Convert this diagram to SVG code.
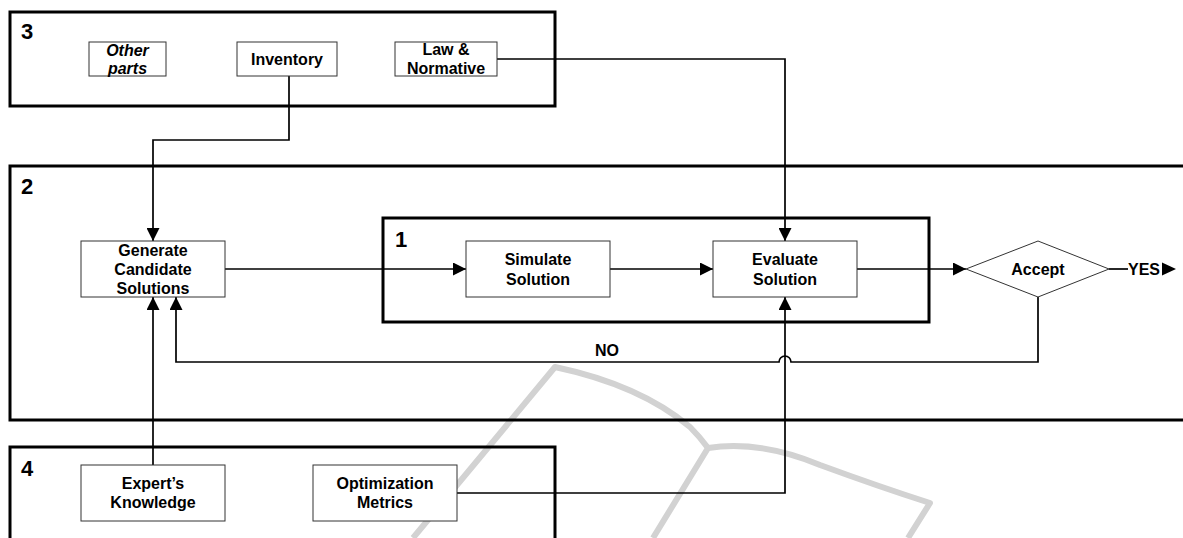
<svg xmlns="http://www.w3.org/2000/svg" width="1183" height="538" viewBox="0 0 1183 538">
<style>
  .wm { fill: none; stroke: #d2d2d2; stroke-width: 6; stroke-linecap: butt; stroke-linejoin: round; }
  .container { fill: none; stroke: #000; stroke-width: 3; }
  .node { fill: #fff; stroke: #333; stroke-width: 1; }
  .conn { fill: none; stroke: #000; stroke-width: 1.7; }
  .t { font-family: "Liberation Sans", Arial, sans-serif; font-weight: bold; font-size: 16px; text-anchor: middle; fill: #000; }
  .num { font-family: "Liberation Sans", Arial, sans-serif; font-weight: bold; font-size: 22px; fill: #000; }
  .it { font-style: italic; }
</style>
<defs>
  <marker id="arrow" viewBox="0 0 13 13" refX="13" refY="6.5" markerWidth="13" markerHeight="13" markerUnits="userSpaceOnUse" orient="auto">
    <path d="M0,0 L13,6.5 L0,13 Z" fill="#000"/>
  </marker>
</defs>
<rect width="1183" height="538" fill="#fff"/>

<g id="watermark">
  <path class="wm" d="M413,538 L555,367 Q640,385 690,427 Q700,437 708,448 L653,538"/>
  <path class="wm" d="M708,448 Q760,440 820,465 Q880,487 930,503 L908,538"/>
</g>

<g id="containers">
  <g id="group3"><rect class="container" x="10" y="12" width="545" height="94"/><text class="num" x="21" y="39">3</text></g>
  <g id="group2"><rect class="container" x="10" y="166" width="1190" height="254"/><text class="num" x="21" y="194">2</text></g>
  <g id="group1"><rect class="container" x="383" y="218" width="546" height="104"/><text class="num" x="395" y="247">1</text></g>
  <g id="group4"><rect class="container" x="10" y="447" width="545" height="110"/><text class="num" x="21" y="476">4</text></g>
</g>

<g id="connectors">
  <path class="conn" d="M289,76 V140 H153 V241" marker-end="url(#arrow)"/>
  <path class="conn" d="M497,59 H785 V241" marker-end="url(#arrow)"/>
  <path class="conn" d="M225,269 H466" marker-end="url(#arrow)"/>
  <path class="conn" d="M610,269 H713" marker-end="url(#arrow)"/>
  <path class="conn" d="M857,269 H966" marker-end="url(#arrow)"/>
  <path class="conn" d="M1109,269 H1128"/>
  <path d="M1162,262.5 L1176,269 L1162,275.5 Z" fill="#000"/>
  <path class="conn" d="M1038,297 V362 H791 A6,6 0 0 0 779,362 H176 V297" marker-end="url(#arrow)"/>
  <path class="conn" d="M153,465 V297" marker-end="url(#arrow)"/>
  <path class="conn" d="M457,493 H785 V297" marker-end="url(#arrow)"/>
  <text class="t" x="607" y="356">NO</text>
  <text class="t" x="1144" y="275">YES</text>
</g>

<g id="other-parts">
  <rect class="node" x="89" y="42" width="77" height="34"/>
  <text class="t it" x="127.5" y="56">Other</text>
  <text class="t it" x="127.5" y="74">parts</text>
</g>
<g id="inventory">
  <rect class="node" x="237" y="42" width="100" height="34"/>
  <text class="t" x="287" y="65">Inventory</text>
</g>
<g id="law-normative">
  <rect class="node" x="395" y="42" width="102" height="34"/>
  <text class="t" x="446" y="55">Law &amp;</text>
  <text class="t" x="446" y="74">Normative</text>
</g>
<g id="generate">
  <rect class="node" x="81" y="241" width="144" height="56"/>
  <text class="t" x="153" y="256">Generate</text>
  <text class="t" x="153" y="275">Candidate</text>
  <text class="t" x="153" y="294">Solutions</text>
</g>
<g id="simulate">
  <rect class="node" x="466" y="241" width="144" height="56"/>
  <text class="t" x="538" y="265">Simulate</text>
  <text class="t" x="538" y="285">Solution</text>
</g>
<g id="evaluate">
  <rect class="node" x="713" y="241" width="144" height="56"/>
  <text class="t" x="785" y="265">Evaluate</text>
  <text class="t" x="785" y="285">Solution</text>
</g>
<g id="accept">
  <polygon class="node" points="966,269 1038,241 1109,269 1038,297"/>
  <text class="t" x="1038" y="275">Accept</text>
</g>
<g id="experts-knowledge">
  <rect class="node" x="81" y="465" width="144" height="56"/>
  <text class="t" x="153" y="489">Expert’s</text>
  <text class="t" x="153" y="508">Knowledge</text>
</g>
<g id="optimization-metrics">
  <rect class="node" x="313" y="465" width="144" height="56"/>
  <text class="t" x="385" y="489">Optimization</text>
  <text class="t" x="385" y="508">Metrics</text>
</g>
</svg>
